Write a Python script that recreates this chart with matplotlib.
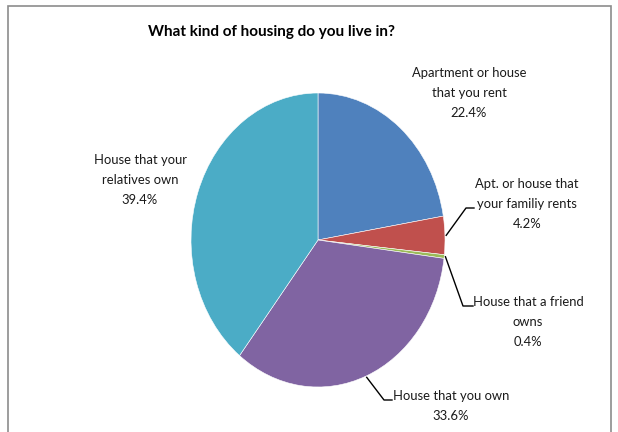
import numpy as np
import matplotlib.pyplot as plt
from matplotlib.lines import Line2D
from matplotlib.patches import Rectangle

W, H = 618, 432

# housing survey answers, clockwise from the top
labels = ["Apartment or house\nthat you rent",
          "Apt. or house that\nyour familiy rents",
          "House that a friend\nowns",
          "House that you own",
          "House that your\nrelatives own"]
shares = [22.4, 4.2, 0.4, 33.6, 39.4]
colors = ["#4F81BD", "#C0504D", "#9BBB59", "#8064A2", "#4BACC6"]

# label text centres (pixels from top-left), and which labels get a leader line
label_pos = [(469, 93), (527, 204), (528, 322), (451, 406), (140, 180)]
leader = [None, (466, 208, 474), (463, 306, 473), (384, 400, 392), None]

FONT = ["Lato", "DejaVu Sans"]


def fx(x, y):
    """pixel position (top-left origin) -> figure fraction"""
    return x / W, 1 - y / H


fig = plt.figure(figsize=(W / 100, H / 100), dpi=100)

# outer chart frame, bottom edge runs off the image
fig.patches.append(Rectangle(fx(8, 440), (611 - 8) / W, (440 - 6) / H,
                             transform=fig.transFigure, fill=False,
                             edgecolor="#8c8c8c", linewidth=1.2))

# pie is drawn stretched vertically (254 x 294 px)
cx, cy, rx, ry = 318, 240, 127, 147
ax = fig.add_axes([(cx - rx) / W, 1 - (cy + ry) / H, 2 * rx / W, 2 * ry / H])
wedges, _ = ax.pie(shares, colors=colors, startangle=90, counterclock=False,
                   wedgeprops=dict(edgecolor="white", linewidth=0.4))
ax.set_aspect("auto")
ax.set_xlim(-1, 1)
ax.set_ylim(-1, 1)
ax.axis("off")

fig.text(*fx(271, 32), "What kind of housing do you live in?", ha="center",
         va="center", fontsize=11, fontweight="bold", family=FONT)

to_fig = ax.transData + fig.transFigure.inverted()
cum = np.cumsum([0] + shares[:-1])
for i, (lab, val) in enumerate(zip(labels, shares)):
    x, y = label_pos[i]
    fig.text(*fx(x, y), f"{lab}\n{val:.1f}%", ha="center", va="center",
             fontsize=9.4, linespacing=1.8, family=FONT, color="#1a1a1a")
    if leader[i] is not None:
        mid = np.deg2rad(90 - (cum[i] + val / 2) * 3.6)
        ex, ey = to_fig.transform((np.cos(mid) * 1.01, np.sin(mid) * 1.01))
        kx, ky, hx = leader[i]
        k = fx(kx, ky)
        h = fx(hx, ky)
        fig.lines.append(Line2D([ex, k[0], h[0]], [ey, k[1], h[1]],
                                transform=fig.transFigure, color="black",
                                linewidth=1))

fig.savefig("out.png", dpi=100)
